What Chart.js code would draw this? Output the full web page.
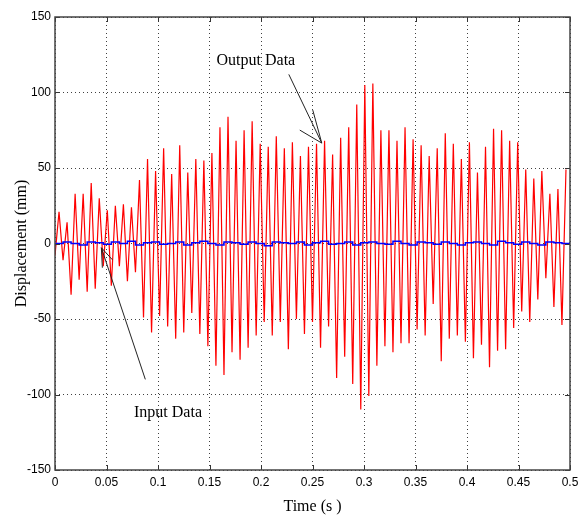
<!DOCTYPE html>
<html>
<head>
<meta charset="utf-8">
<title>Displacement vs Time</title>
<script src="https://cdn.jsdelivr.net/npm/chart.js@4.4.1/dist/chart.umd.min.js"></script>
<style>
  html, body { margin: 0; padding: 0; background: #ffffff; }
</style>
</head>
<body>
<canvas id="displacementChart" width="586" height="520"></canvas>
<script>
// Values
// output (red): one trough and one peak per cycle, 64 cycles over 0.5 s
const cyclePeriod = 0.5 / 64;
const outputTroughs = [
  -8, -11, -34, -24, -32, -30, -15, -28, -15, -25, -19, -49, -59, -48, -55, -63,
  -59, -46, -60, -68, -81, -87, -72, -77, -69, -61, -52, -61, -52, -70, -50, -60,
  -52, -69, -55, -89, -75, -93, -110, -101, -81, -68, -72, -66, -66, -57, -61, -40,
  -78, -63, -61, -65, -76, -67, -82, -71, -70, -56, -45, -52, -37, -23, -42, -54
];
const outputPeaks = [
  21, 14, 33, 33, 40, 30, 22, 25, 26, 24, 42, 56, 48, 63, 46, 65,
  47, 56, 55, 60, 77, 84, 68, 75, 81, 66, 64, 71, 63, 67, 58, 64, 66,
  68, 59, 70, 77, 92, 105, 106, 75, 75, 68, 77, 69, 65, 58, 63, 73,
  66, 56, 67, 47, 64, 76, 75, 68, 67, 49, 43, 48, 33, 36, 49
];
// input (blue): small wiggle around zero, one value per cycle
const inputValues = [
  0, 1, 0, -1, 1, 0.5, -0.5, 1, 0, 1.5, -1, 0.5, 1, -0.5, 0, 1,
  -1, 0.5, 1.5, 0, -1, 1, 0.5, -0.5, 1, 0, -1.5, 1, 0.5, 0, 1, -1,
  0.5, 1.5, -0.5, 0, 1, -1, 0.5, 1, 0, -0.5, 1.5, 0, -1, 1, 0.5, -0.5,
  1, 0, -1, 0.5, 1, 0, -1, 1.5, 0.5, -0.5, 1, 0, -1, 1, 0.5, 0, 1
];
const xTicks = [0, 0.05, 0.1, 0.15, 0.2, 0.25, 0.3, 0.35, 0.4, 0.45, 0.5];
const yTicks = [-150, -100, -50, 0, 50, 100, 150];

// build point lists for the library
const outputPoints = [];
for (let i = 0; i < outputPeaks.length; i++) {
  outputPoints.push({ x: i * cyclePeriod, y: outputTroughs[i] });
  outputPoints.push({ x: (i + 0.5) * cyclePeriod, y: outputPeaks[i] });
}
const inputPoints = inputValues.map((v, i) => ({ x: i * cyclePeriod, y: v }));

// text + arrows, in data coordinates (head offsets in pixels from the tip)
const notes = [
  { text: 'Output Data', at: [0.195, 121], tail: [0.227, 112], tip: [0.259, 66.5], head: [[-9, -33], [-22, -13]] },
  { text: 'Input Data', at: [0.1097, -112], tail: [0.0877, -90], tip: [0.045, -2.8], head: [[1, 20], [11, 12]] }
];

const serif = "'Liberation Serif', 'Times New Roman', serif";
const sans = "'Liberation Sans', Arial, sans-serif";

// box, inward ticks and annotations, drawn the MATLAB way
const matlabFrame = {
  id: 'matlabFrame',
  afterDatasetsDraw(chart) {
    const ctx = chart.ctx;
    const area = chart.chartArea;
    const xs = chart.scales.x, ys = chart.scales.y;
    ctx.save();
    ctx.strokeStyle = '#333';
    ctx.lineWidth = 1;
    const tl = 5;
    xTicks.forEach(v => {
      const px = Math.round(xs.getPixelForValue(v)) + 0.5;
      ctx.beginPath();
      ctx.moveTo(px, area.bottom); ctx.lineTo(px, area.bottom - tl);
      ctx.moveTo(px, area.top); ctx.lineTo(px, area.top + tl);
      ctx.stroke();
    });
    yTicks.forEach(v => {
      const py = Math.round(ys.getPixelForValue(v)) + 0.5;
      ctx.beginPath();
      ctx.moveTo(area.left, py); ctx.lineTo(area.left + tl, py);
      ctx.moveTo(area.right, py); ctx.lineTo(area.right - tl, py);
      ctx.stroke();
    });
    ctx.strokeStyle = '#444';
    ctx.lineWidth = 1.5;
    ctx.strokeRect(area.left, area.top, area.right - area.left, area.bottom - area.top);

    // annotations
    ctx.strokeStyle = '#222';
    ctx.lineWidth = 1;
    ctx.fillStyle = '#000';
    ctx.font = '16px ' + serif;
    ctx.textAlign = 'center';
    ctx.textBaseline = 'middle';
    notes.forEach(n => {
      ctx.fillText(n.text, xs.getPixelForValue(n.at[0]), ys.getPixelForValue(n.at[1]));
      const tx = xs.getPixelForValue(n.tip[0]), ty = ys.getPixelForValue(n.tip[1]);
      ctx.beginPath();
      ctx.moveTo(xs.getPixelForValue(n.tail[0]), ys.getPixelForValue(n.tail[1]));
      ctx.lineTo(tx, ty);
      n.head.forEach(h => { ctx.moveTo(tx, ty); ctx.lineTo(tx + h[0], ty + h[1]); });
      ctx.stroke();
    });
    ctx.restore();
  }
};

const ctx = document.getElementById('displacementChart').getContext('2d');
new Chart(ctx, {
  type: 'line',
  data: {
    datasets: [
      {
        label: 'Input Data',
        data: inputPoints,
        borderColor: '#0000ff',
        borderWidth: 1.5,
        stepped: true,
        pointRadius: 0,
        fill: false
      },
      {
        label: 'Output Data',
        data: outputPoints,
        borderColor: '#ff0000',
        borderWidth: 1.2,
        tension: 0,
        pointRadius: 0,
        fill: false
      }
    ]
  },
  options: {
    responsive: false,
    animation: false,
    devicePixelRatio: 1,
    layout: { padding: { top: 17, right: 16, left: 0, bottom: 0 } },
    plugins: {
      legend: { display: false },
      tooltip: { enabled: false }
    },
    scales: {
      x: {
        type: 'linear',
        min: 0,
        max: 0.5,
        afterBuildTicks: s => { s.ticks = xTicks.map(v => ({ value: v })); },
        afterFit: s => { s.height = 50; s.paddingLeft = 0; s.paddingRight = 0; },
        ticks: {
          color: '#000',
          padding: 5,
          maxRotation: 0,
          font: { family: sans, size: 12 },
          callback: v => String(Number(v.toFixed(2)))
        },
        grid: {
          color: 'rgba(0,0,0,0.75)',
          lineWidth: 1,
          drawTicks: false
        },
        border: { display: false, dash: [1, 3] },
        title: {
          display: true,
          text: 'Time (s )',
          color: '#000',
          font: { family: serif, size: 16 },
          padding: { top: 0, bottom: 4 }
        }
      },
      y: {
        min: -150,
        max: 150,
        afterBuildTicks: s => { s.ticks = yTicks.map(v => ({ value: v })); },
        afterFit: s => { s.width = 55; s.paddingTop = 0; s.paddingBottom = 0; },
        ticks: {
          color: '#000',
          padding: 4,
          font: { family: sans, size: 12 }
        },
        grid: {
          color: 'rgba(0,0,0,0.75)',
          lineWidth: 1,
          drawTicks: false
        },
        border: { display: false, dash: [1, 3] },
        title: {
          display: true,
          text: 'Displacement (mm)',
          color: '#000',
          font: { family: serif, size: 16 },
          padding: { top: 12, bottom: 0 }
        }
      }
    }
  },
  plugins: [matlabFrame]
});
</script>
</body>
</html>
